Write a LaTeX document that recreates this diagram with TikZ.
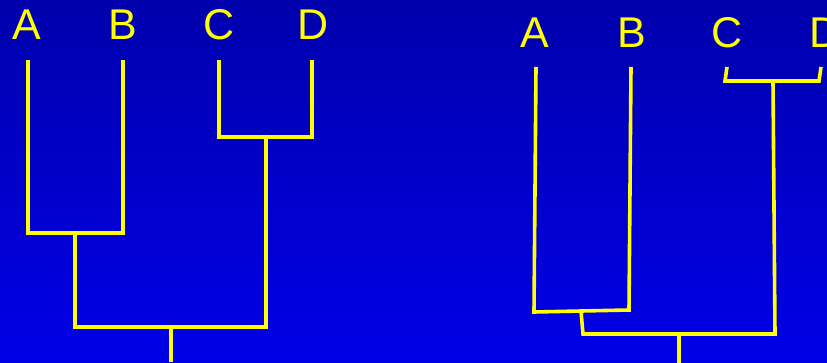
\documentclass[tikz,border=0pt]{standalone}
\usepackage{fontspec}
\setmainfont{Liberation Sans}
\begin{document}
\begin{tikzpicture}[x=1pt,y=-1pt,
  branch/.style={draw=treeyellow,line width=3.6pt},
  leaflabel/.style={text=treeyellow,font=\fontsize{43}{43}\selectfont,anchor=base,inner sep=0pt}]
\definecolor{treeyellow}{RGB}{255,255,0}
\definecolor{bgtop}{RGB}{0,0,172}
\definecolor{bgbot}{RGB}{0,0,232}
\shade[top color=bgtop,bottom color=bgbot] (0,0) rectangle (827,363);
\useasboundingbox (0,0) rectangle (827,363);
% left tree
\node[leaflabel] (la) at (27,40) {A};
\node[leaflabel] (lb) at (123,40) {B};
\node[leaflabel] (lc) at (219,40) {C};
\node[leaflabel] (ld) at (313,40) {D};
\coordinate (lat) at (28,60);
\coordinate (lbt) at (123,60);
\coordinate (lct) at (219,60);
\coordinate (ldt) at (312,60);
\coordinate (lab) at (75,233);
\coordinate (lcd) at (266,137);
\coordinate (lroot) at (171,327);
\coordinate (lrootend) at (171,362);
\draw[branch] (lat) |- (lab) -| (lbt);
\draw[branch] (lct) |- (lcd) -| (ldt);
\draw[branch] (lab) |- (lroot) -| (lcd);
\draw[branch] (lroot) -- (lrootend);
% right tree
\node[leaflabel] (ra) at (535,48) {A};
\node[leaflabel] (rb) at (632,48) {B};
\node[leaflabel] (rc) at (727,48) {C};
\node[leaflabel] (rd) at (825,48) {D};
\coordinate (rat) at (536,67);
\coordinate (rab1) at (534,312);
\coordinate (rbb1) at (629,310);
\coordinate (rbt) at (631,67);
\coordinate (rabm) at (581,311);
\coordinate (rabs) at (583,334);
\coordinate (rct) at (727,67);
\coordinate (rcb) at (725,81);
\coordinate (rdb) at (819,81);
\coordinate (rdt) at (821,67);
\coordinate (rcdm) at (773,81);
\coordinate (rcds) at (775,334);
\coordinate (rroot) at (679,334);
\coordinate (rrootend) at (679,365);
\draw[branch] (rat) -- (rab1) -- (rbb1) -- (rbt);
\draw[branch] (rct) -- (rcb) -- (rdb) -- (rdt);
\draw[branch] (rabm) -- (rabs) -- (rcds) -- (rcdm);
\draw[branch] (rroot) -- (rrootend);
\end{tikzpicture}
\end{document}
